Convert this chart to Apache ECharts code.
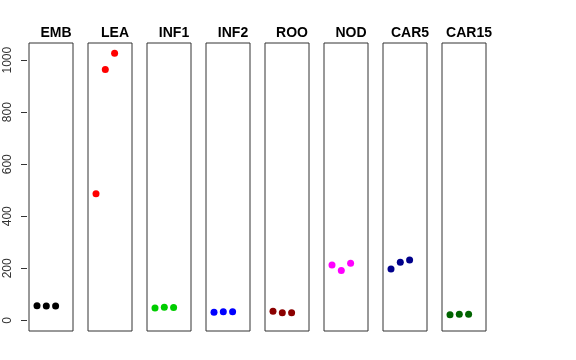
<!DOCTYPE html>
<html><head><meta charset="utf-8">
<script src="https://cdn.jsdelivr.net/npm/echarts@6/dist/echarts.min.js"></script>
<style>html,body{margin:0;padding:0;background:#fff}#c{width:576px;height:360px}</style>
</head><body><div id="c"></div>
<script>
const panels = ["EMB","LEA","INF1","INF2","ROO","NOD","CAR5","CAR15"];
const xPositions = [1, 2, 3];
const EMB = [56, 55, 55];
const LEA = [487, 964, 1027];
const INF1 = [47, 50, 49];
const INF2 = [31, 33, 33];
const ROO = [35, 29, 29];
const NOD = [213, 192, 219];
const CAR5 = [197, 223, 232];
const CAR15 = [21, 23, 23];
const yTicks = [0, 200, 400, 600, 800, 1000];
const colors = ["#000000","#ff0000","#00cd00","#0000ff","#8b0000","#ff00ff","#00008b","#006400"];
const values = [EMB, LEA, INF1, INF2, ROO, NOD, CAR5, CAR15];

(function(){
const chart = echarts.init(document.getElementById('c'), null, {renderer:'canvas'});
const grids=[], xAxes=[], yAxes=[], series=[], titles=[];
const left0 = 29, step = 59, w = 44, gTop = 43, gH = 288;
panels.forEach((p,i)=>{
  const l = left0 + i*step;
  grids.push({left:l, width:w, top:gTop, height:gH, show:true, borderColor:'#333', borderWidth:1, backgroundColor:'transparent'});
  xAxes.push({gridIndex:i, type:'value', min:0.14, max:4.87, show:false});
  yAxes.push({gridIndex:i, type:'value', min:-41, max:1066, show: i===0,
    interval:200, splitLine:{show:false},
    axisLine:{show:false},
    axisTick:{show:true, inside:false, length:6, lineStyle:{color:'#333'},
      customValues: yTicks},
    axisLabel:{show:true, rotate:90, fontSize:12, color:'#333', fontFamily:'Liberation Sans, Arial, sans-serif', margin:13,
      customValues: yTicks, formatter: v=>String(v)},
    offset:2
  });
  titles.push({text:p, left:l + w/2, top:21, textAlign:'center',
    textStyle:{fontSize:14, fontWeight:'bold', color:'#000', fontFamily:'Liberation Sans, Arial, sans-serif'}});
  series.push({type:'scatter', xAxisIndex:i, yAxisIndex:i, symbol:'circle', symbolSize:7,
    itemStyle:{color:colors[i], opacity:1}, silent:true,
    data: xPositions.map((x,j)=>[x, values[i][j]])});
});
chart.setOption({animation:false, title:titles, grid:grids, xAxis:xAxes, yAxis:yAxes, series:series});
})();
</script></body></html>
